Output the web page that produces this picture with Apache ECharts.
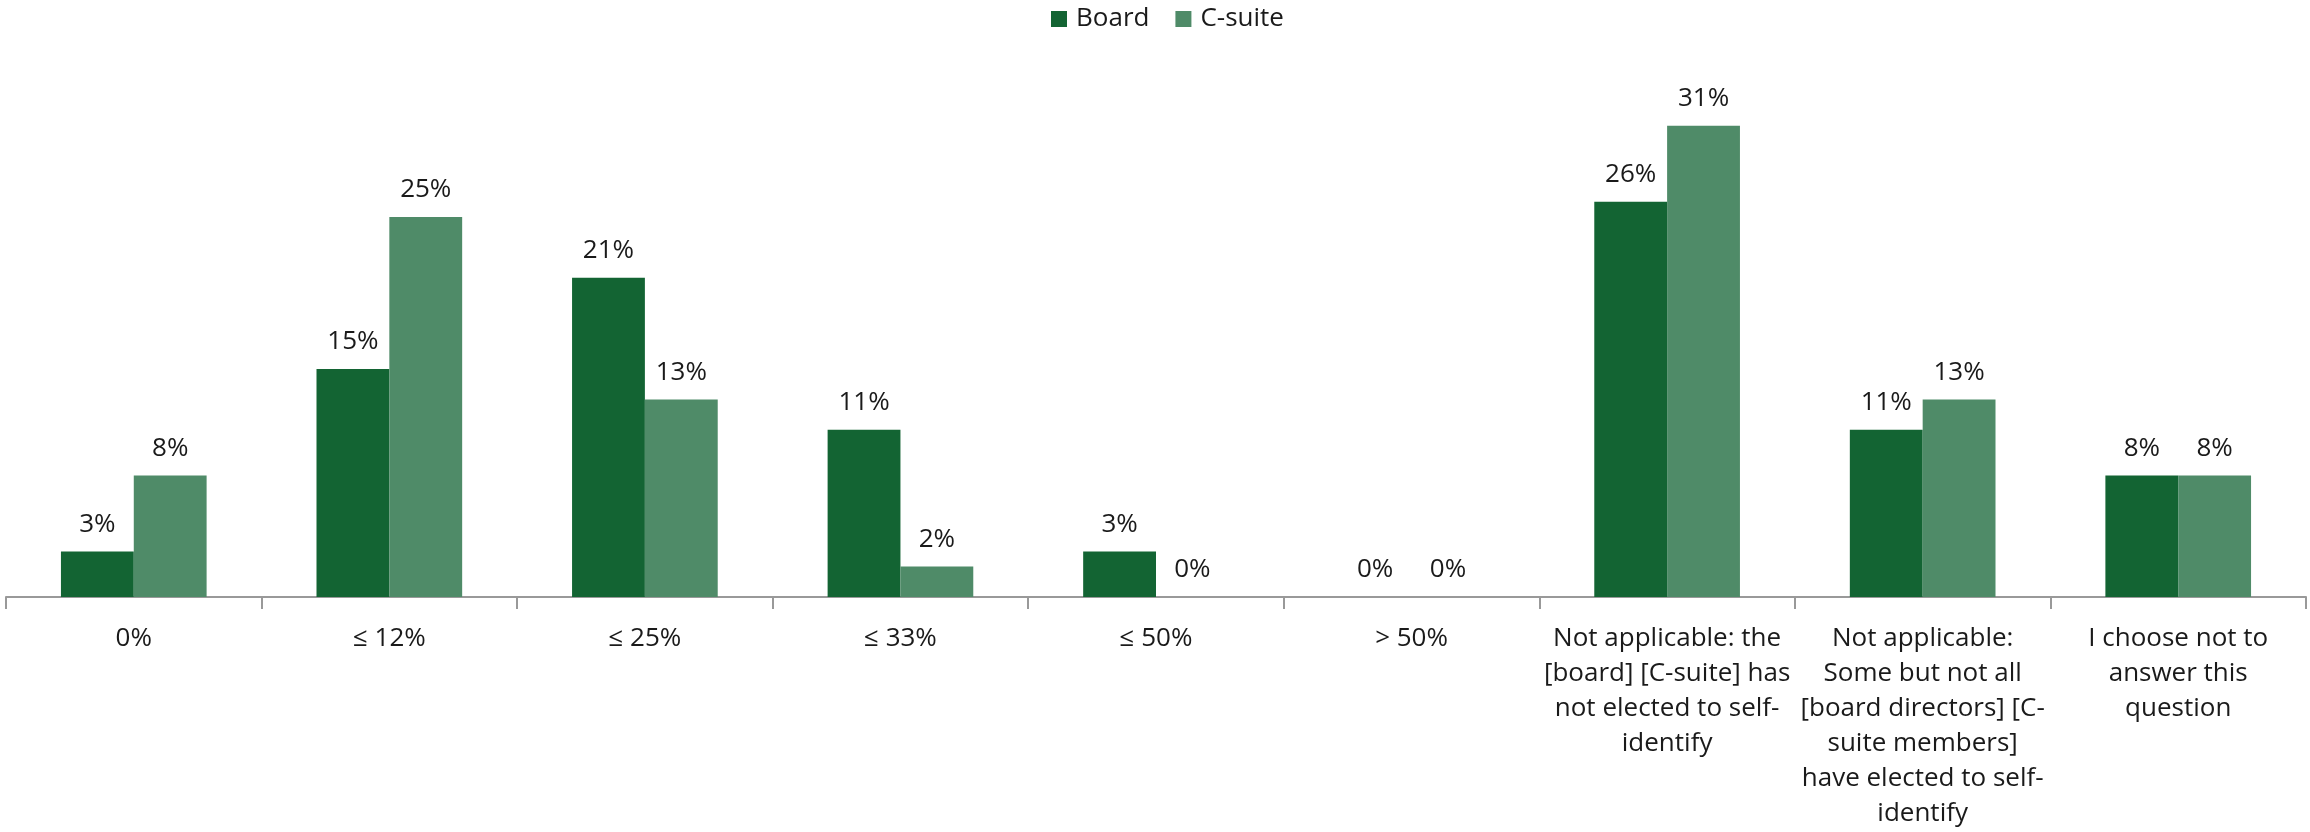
<!DOCTYPE html>
<html>
<head>
<meta charset="utf-8">
<script src="https://cdn.jsdelivr.net/npm/echarts@6/dist/echarts.min.js"></script>
<style>
html,body{margin:0;padding:0;background:#fff;}
#chart{width:2310px;height:832px;}
</style>
</head>
<body>
<div id="chart"></div>
<script>
const categories = [
  "0%",
  "≤ 12%",
  "≤ 25%",
  "≤ 33%",
  "≤ 50%",
  "> 50%",
  "Not applicable: the\n[board] [C-suite] has\nnot elected to self-\nidentify",
  "Not applicable:\nSome but not all\n[board directors] [C-\nsuite members]\nhave elected to self-\nidentify",
  "I choose not to\nanswer this\nquestion"
];
const boardValues = [3, 15, 21, 11, 3, 0, 26, 11, 8];
const csuiteValues = [8, 25, 13, 2, 0, 0, 31, 13, 8];
const seriesNames = ["Board", "C-suite"];

const FONT = "'Open Sans', 'Noto Sans', sans-serif";
const TXT = "#1a1a1a";

const chart = echarts.init(document.getElementById('chart'), null, {renderer: 'canvas'});
const labelCfg = {
  show: true,
  position: 'top',
  distance: 14,
  formatter: p => p.value + '%',
  fontFamily: FONT,
  fontSize: 26,
  color: TXT
};
chart.setOption({
  animation: false,
  color: ['#136433', '#4f8b68'],
  legend: {
    data: seriesNames,
    top: 1,
    left: 1046,
    itemWidth: 16,
    itemHeight: 16,
    itemGap: 26,
    icon: 'rect',
    textStyle: {fontFamily: FONT, fontSize: 26, color: TXT, padding: [0, 0, 0, 4]}
  },
  grid: {left: 6, right: 4, top: 65, bottom: 235, containLabel: false},
  xAxis: {
    type: 'category',
    data: categories,
    axisLine: {show: true, lineStyle: {color: '#999999', width: 2}},
    axisTick: {show: true, length: 12, lineStyle: {color: '#999999', width: 2}, alignWithLabel: false},
    axisLabel: {
      interval: 0,
      margin: 24,
      fontFamily: FONT,
      fontSize: 26,
      lineHeight: 35,
      color: TXT,
      align: 'center'
    }
  },
  yAxis: {
    type: 'value',
    min: 0,
    max: 35,
    show: false,
    splitLine: {show: false}
  },
  series: [
    {name: seriesNames[0], type: 'bar', data: boardValues, barGap: '0%', barCategoryGap: '43%', label: labelCfg},
    {name: seriesNames[1], type: 'bar', data: csuiteValues, barGap: '0%', barCategoryGap: '43%', label: labelCfg}
  ]
});
</script>
</body>
</html>
